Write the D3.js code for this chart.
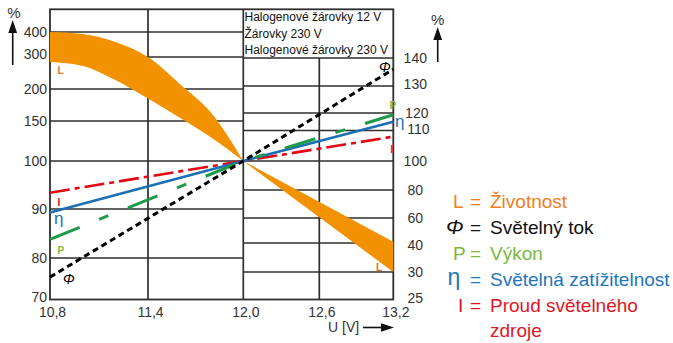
<!DOCTYPE html>
<html><head><meta charset="utf-8">
<script src="https://cdn.jsdelivr.net/npm/d3@7"></script>
<style>body{margin:0;background:#fff}svg{display:block}text{font-family:"Liberation Sans",Arial,sans-serif}</style>
</head><body><svg id="c" width="673" height="343"></svg>
<script>
// ---- data ----
const voltages = [10.8, 11.4, 12.0, 12.6, 13.2];
const voltageLabels = ["10,8", "11,4", "12,0", "12,6", "13,2"];
const leftTicks = [70, 80, 90, 100, 150, 200, 300, 400];
const rightTicks = [25, 30, 40, 60, 80, 100, 110, 120, 130, 140];
const lampTypes = ["Halogenové žárovky 12 V", "Žárovky 230 V", "Halogenové žárovky 230 V"];
// Životnost (L) band, 10,8–12,0 V on left scale
const lifeU = [10.8, 11.0, 11.2, 11.4, 11.6, 11.8, 12.0];
const lifeUpper = [400, 392, 360, 300, 216, 162, 100];
const lifeLower = [284, 272, 228, 185, 155, 129, 100];
// 12,0–13,2 V on right scale
const lifeRightU = [12.0, 13.2];
const lifeRightUpper = [100, 41];
const lifeRightLower = [100, 30];
// lines: value at 10,8 V (left scale), 12,0 V, 13,2 V (right scale)
const lineU = [10.8, 12.0, 13.2];
const flux = [75.4, 100, 136];       // Φ
const power = [83.8, 100, 119];      // P
const efficacy = [89.3, 100, 115];   // η
const current = [93.4, 100, 108];    // I
const legendSymbols = ["L", "Φ", "P", "η", "I"];
const legendTexts = ["Životnost", "Světelný tok", "Výkon", "Světelná zatížitelnost", "Proud světelného"];

// ---- scales ----
const svg = d3.select("#c");
const x = d3.scaleLinear().domain(voltages).range([50, 148, 243.3, 319.3, 393.3]);
const yL = d3.scaleLinear().domain(leftTicks).range([299.5, 258, 209, 161, 121, 89, 57, 32]);
const yR = d3.scaleLinear().domain(rightTicks).range([299.5, 272, 243, 218, 190, 161, 130.5, 113, 86, 58]);
const gridC = "#2e2e2e";

// ---- grid ----
const g = svg.append("g");
leftTicks.filter(t => t !== 70).forEach(t => {
  g.append("line").attr("x1", x(10.8)).attr("x2", x(12.0)).attr("y1", yL(t)).attr("y2", yL(t))
    .attr("stroke", gridC).attr("stroke-width", 1.5);
});
rightTicks.filter(t => t !== 25).forEach(t => {
  g.append("line").attr("x1", x(12.0)).attr("x2", x(13.2)).attr("y1", yR(t)).attr("y2", yR(t))
    .attr("stroke", gridC).attr("stroke-width", 1.5);
});
g.append("line").attr("x1", x(11.4)).attr("x2", x(11.4)).attr("y1", 9.3).attr("y2", 299.5).attr("stroke", gridC).attr("stroke-width", 1.7);
g.append("line").attr("x1", x(12.0)).attr("x2", x(12.0)).attr("y1", 9.3).attr("y2", 299.5).attr("stroke", gridC).attr("stroke-width", 1.7);
g.append("line").attr("x1", x(12.6)).attr("x2", x(12.6)).attr("y1", yR(140)).attr("y2", 299.5).attr("stroke", gridC).attr("stroke-width", 1.7);
g.append("rect").attr("x", 50).attr("y", 9.3).attr("width", x(13.2) - 50).attr("height", 299.5 - 9.3)
  .attr("fill", "none").attr("stroke", gridC).attr("stroke-width", 1.8);

// lamp-type header
lampTypes.forEach((t, i) => {
  svg.append("text").attr("x", 244.5).attr("y", [21, 38, 53.5][i]).attr("font-size", 12).attr("fill", "#111").text(t);
});

// ---- L band ----
const bandL = lifeU.map((u, i) => ({u, a: lifeUpper[i], b: lifeLower[i]}));
svg.append("path").datum(bandL).attr("fill", "#F39200")
  .attr("d", d3.area().x(d => x(d.u)).y0(d => yL(d.b)).y1(d => yL(d.a)).curve(d3.curveMonotoneX));
const bandR = lifeRightU.map((u, i) => ({u, a: lifeRightUpper[i], b: lifeRightLower[i]}));
svg.append("path").datum(bandR).attr("fill", "#F39200")
  .attr("d", d3.area().x(d => x(d.u)).y0(d => yR(d.b)).y1(d => yR(d.a)));

// ---- lines ----
function pts(vals) {
  return lineU.map((u, i) => [x(u), i === 2 ? yR(vals[i]) : yL(vals[i])]);
}
const line = d3.line();
svg.append("path").attr("d", line(pts(current))).attr("fill", "none").attr("stroke", "#E30613")
  .attr("stroke-width", 2.6).attr("stroke-dasharray", "20,5,5,5");
svg.append("path").attr("d", line(pts(efficacy))).attr("fill", "none").attr("stroke", "#1D6FB4")
  .attr("stroke-width", 2.6);
svg.append("path").attr("d", line(pts(power))).attr("fill", "none").attr("stroke", "#1E9A48")
  .attr("stroke-width", 3).attr("stroke-dasharray", "32,21,10,21");
svg.append("path").attr("d", line(pts(flux))).attr("fill", "none").attr("stroke", "#000")
  .attr("stroke-width", 3).attr("stroke-dasharray", "6,4");

// ---- in-chart labels ----
function lab(t, xx, yy, c, fs, opts = {}) {
  const e = svg.append("text").attr("x", xx).attr("y", yy).attr("fill", c).attr("font-size", fs).text(t);
  if (opts.bold) e.attr("font-weight", "bold");
  if (opts.serif) e.attr("font-family", "'DejaVu Serif','Liberation Serif',serif");
  if (opts.times) e.attr("font-family", "'Liberation Serif','DejaVu Serif',serif");
  if (opts.italic) e.attr("font-style", "italic");
  return e;
}
lab("L", 57.5, 74, "#EC6D24", 10, {bold: true});
lab("L", 376, 270.5, "#EC6D24", 10, {bold: true});
lab("I", 57.5, 205.5, "#E30613", 10, {bold: true});
lab("I", 390.5, 152.5, "#E30613", 10, {bold: true});
lab("η", 54, 224, "#1D6FB4", 17, {times: true});
lab("η", 395, 127, "#1D6FB4", 17, {times: true});
lab("P", 57.5, 254, "#7DB83A", 10, {bold: true});
lab("P", 389.5, 109, "#7DB83A", 10, {bold: true});
lab("Φ", 63, 284, "#000", 14, {serif: true, italic: true});
lab("Φ", 379, 71.5, "#000", 14, {serif: true, italic: true});

// ---- axes ----
const axL = svg.append("g").attr("transform", "translate(50,0)")
  .call(d3.axisLeft(yL).tickValues(leftTicks).tickFormat(d3.format("d")).tickSize(0).tickPadding(3));
const axR = svg.append("g").attr("transform", `translate(${x(13.2)},0)`)
  .call(d3.axisRight(yR).tickValues(rightTicks).tickFormat(d3.format("d")).tickSize(0).tickPadding(22));
const axB = svg.append("g").attr("transform", "translate(0,299.5)")
  .call(d3.axisBottom(x).tickValues(voltages).tickFormat((d, i) => voltageLabels[i]).tickSize(0).tickPadding(7.5));
[axL, axR, axB].forEach(a => {
  a.select(".domain").remove();
  a.selectAll("text").attr("font-size", 14).attr("fill", "#333").attr("font-family", "'Liberation Sans',Arial,sans-serif");
});
axL.selectAll("text").attr("y", d => d === 70 ? -2.5 : d === 300 ? -2.5 : 0);
axR.selectAll("text").attr("text-anchor", "middle").attr("y", d => d === 40 ? 2.5 : d === 110 ? -1.5 : d === 130 ? -1.5 : d === 25 ? -1 : 0)
  .attr("x", d => d === 110 ? 25 : d === 120 ? 23.5 : 22);
axB.selectAll("text").attr("x", 2);

// axis units & arrows
lab("%", 14, 18, "#333", 15).attr("text-anchor", "middle");
lab("%", 437.7, 25, "#333", 15).attr("text-anchor", "middle");
svg.append("line").attr("x1", 12.7).attr("x2", 12.7).attr("y1", 65).attr("y2", 30).attr("stroke", "#111").attr("stroke-width", 1.6);
svg.append("path").attr("d", "M12.7,20 L8.3,33 L17.1,33 Z").attr("fill", "#111");
svg.append("line").attr("x1", 437.7).attr("x2", 437.7).attr("y1", 62).attr("y2", 36).attr("stroke", "#111").attr("stroke-width", 1.6);
svg.append("path").attr("d", "M437.7,27 L433.3,40 L442.1,40 Z").attr("fill", "#111");
lab("U [V]", 328, 332, "#333", 14);
svg.append("line").attr("x1", 363).attr("x2", 384).attr("y1", 327.5).attr("y2", 327.5).attr("stroke", "#111").attr("stroke-width", 1.6);
svg.append("path").attr("d", "M394,327.5 L381,323.3 L381,331.7 Z").attr("fill", "#111");

// ---- legend ----
const legColors = ["#EF7D22", "#111", "#7AB940", "#2176BC", "#E2151F"];
const legY = [208, 233.5, 260, 286, 311.5];
const symX = [453, 446, 453, 447.5, 458];
legendSymbols.forEach((s, i) => {
  const isPhi = s === "Φ", isEta = s === "η";
  lab(s, symX[i], legY[i] + (isEta ? -1 : 0), legColors[i], isPhi ? 21 : isEta ? 23 : 19,
      {serif: isPhi, italic: isPhi, times: isEta});
  lab("=", 470, legY[i], legColors[i], 19);
  lab(legendTexts[i], 490, legY[i], legColors[i], 19);
});
lab("zdroje", 490, 336.5, legColors[4], 19);
</script></body></html>
